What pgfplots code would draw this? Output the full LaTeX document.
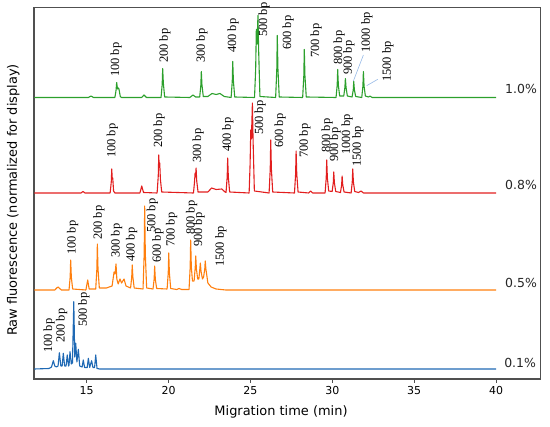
\documentclass[border=0pt]{standalone}
\usepackage{fontspec}
\setmainfont{DejaVu Sans}
\newfontfamily\serifbp{Liberation Serif}
\usepackage{pgfplots}
\pgfplotsset{compat=1.18}
\definecolor{cgreen}{RGB}{44,160,44}
\definecolor{cred}{RGB}{226,30,30}
\definecolor{corange}{RGB}{255,127,14}
\definecolor{cblue}{RGB}{31,105,180}
\definecolor{cframe}{RGB}{80,80,80}
\definecolor{cleader}{RGB}{150,185,230}
\begin{document}
\begin{tikzpicture}[
  bplab/.style={rotate=90, anchor=west, inner sep=0pt, font=\serifbp\fontsize{12.5}{13}\selectfont},
  pct/.style={anchor=center, inner sep=0pt, font=\fontsize{12.5}{13}\selectfont, text=black!85}]
\useasboundingbox (-34bp,-48bp) rectangle (516bp,379bp);
\begin{axis}[
  at={(0,0)}, anchor=south west, scale only axis,
  width=506.7bp, height=371.7bp,
  xmin=11.78, xmax=42.73, ymin=0, ymax=371.7,
  clip=false,
  ytick=\empty,
  xtick={15,20,25,30,35,40},
  xtick pos=left, tick align=outside,
  major tick length=3.5bp,
  tick style={cframe, line width=0.9bp},
  axis line style={cframe, line width=1.1bp},
  /pgf/number format/assume math mode=true,
  tick label style={font=\fontsize{11}{13}\selectfont},
  xlabel={Migration time (min)},
  ylabel={Raw fluorescence (normalized for display)},
  label style={font=\fontsize{13}{15}\selectfont},
  xlabel style={at={(axis description cs:0.4875,-0.0888)}, anchor=center},
  ylabel style={at={(axis description cs:-0.0409,0.4816)}, anchor=center},
  every axis plot/.append style={line width=1.1bp, line join=round},
]
% 1.0% (green), baseline 281.5
\addplot[cgreen] coordinates {
(11.8,281.5)
(15.1,281.5)(15.26,283)(15.42,281.5)
(16.72,281.5)(16.79,288.5)(16.83,296.5)(16.88,290)(16.93,291)(16.97,290)(17.05,282.5)(17.12,281.5)
(18.35,281.5)(18.5,284)(18.65,281.5)
(19.54,281.5)(19.61,294.5)(19.64,310.5)(19.68,296)(19.76,282)
(21.3,281.5)(21.49,284)(21.65,282)
(21.9,282)(21.97,293.5)(22.0,307.5)(22.04,294)(22.12,282.5)
(22.4,282.5)(22.65,285.5)(22.9,284.5)(23.14,285.5)(23.4,282.5)
(23.82,281.5)(23.89,297.5)(23.92,317.5)(23.96,298)(24.04,282)
(25.25,281.5)(25.32,310)(25.36,349.5)(25.40,335)(25.46,363.5)(25.50,330)(25.58,282.5)
(26.54,281.5)(26.61,309.5)(26.64,343.5)(26.68,310)(26.76,282)
(28.19,281.5)(28.26,303)(28.29,329.5)(28.33,303)(28.41,282)
(30.23,281.5)(30.30,294)(30.33,309.5)(30.37,294)(30.45,283)
(30.7,283)(30.77,291.5)(30.80,300.5)(30.84,291.5)(30.92,283)
(31.21,282)(31.28,289)(31.31,297.5)(31.35,289)(31.43,282.5)
(31.80,281.5)(31.87,293)(31.90,307.5)(31.94,293)(32.02,283)
(32.2,282)(32.3,282.8)(32.45,281.5)
(40,281.5)
};
% 0.8% (red), baseline 186
\addplot[cred] coordinates {
(11.8,186)
(14.65,186)(14.77,187.5)(14.9,186)
(16.43,186)(16.50,197)(16.53,210)(16.56,200)(16.59,201)(16.64,188)(16.72,186)
(18.25,186)(18.36,193)(18.47,186.5)
(19.30,186)(19.37,203)(19.40,224)(19.43,212)(19.46,216)(19.50,200)(19.58,187)
(21.52,186)(21.58,196)(21.62,206)(21.65,202)(21.68,211)(21.72,198)(21.80,187)
(22.4,187)(22.63,191)(22.9,189.5)(23.25,190)(23.45,187)
(23.51,186.5)(23.58,202)(23.61,221)(23.65,202)(23.73,187)
(24.92,186)(24.98,215)(25.02,249)(25.06,240)(25.12,276)(25.16,240)(25.24,188)
(26.14,186)(26.21,210)(26.24,239)(26.28,210)(26.36,187)
(27.69,186)(27.76,205)(27.79,228)(27.83,205)(27.91,187)
(28.55,186)(28.68,188)(28.8,186)
(29.56,186)(29.63,201)(29.66,219)(29.70,201)(29.78,188)
(29.99,187.5)(30.06,196)(30.09,207)(30.13,196)(30.21,187.5)
(30.50,186.5)(30.57,194)(30.60,203)(30.64,194)(30.72,187)
(31.15,186)(31.22,197)(31.25,210)(31.29,197)(31.37,187.5)
(31.6,186.5)(31.76,188)(31.9,186)
(40,186)
};
% 0.5% (orange), baseline 89
\addplot[corange] coordinates {
(11.8,89)
(13.05,89)(13.2,91.5)(13.26,92)(13.35,90.5)(13.45,89)
(13.92,89)(13.99,102)(14.02,119)(14.06,102)(14.14,90)
(14.95,89)(15.06,99)(15.15,90)
(15.3,90)(15.55,90)(15.62,110)(15.65,135)(15.69,110)(15.77,91)
(16.2,91)(16.55,93)(16.67,107)(16.73,105)(16.79,115)(16.84,100)(16.92,95)
(17.03,100)(17.13,96)(17.28,100)(17.4,93)
(17.68,91)(17.75,102)(17.78,114)(17.82,102)(17.9,91)
(18.44,90)(18.51,125)(18.54,173)(18.58,125)(18.66,91)
(19.05,90)(19.12,100)(19.15,113)(19.19,100)(19.27,90.5)
(19.91,90)(19.98,106)(20.01,126)(20.05,106)(20.13,90.5)
(20.5,89.5)(20.64,90.5)(20.8,89.5)
(21.25,89.5)(21.32,112)(21.35,139)(21.39,112)(21.46,98)
(21.56,98)(21.63,112)(21.66,123)(21.70,110)(21.78,100)
(21.85,100)(21.91,110)(21.94,116)(21.98,108)(22.07,100)
(22.14,102)(22.21,110)(22.24,118)(22.28,110)(22.4,96)(22.6,92)(22.9,90)(23.5,89)
(40,89)
};
% 0.1% (blue), baseline 10
\addplot[cblue] coordinates {
(11.8,10)(12.7,10.5)(12.85,12)(12.96,18.3)(13.05,13)(13.15,12)
(13.25,13)(13.33,26.3)(13.42,13)
(13.5,13)(13.57,25.7)(13.65,13)
(13.74,13)(13.81,24)(13.89,13)
(13.92,14)(13.98,27.3)(14.06,15)(14.13,16)(14.21,77.3)(14.27,22)(14.33,35.7)(14.40,17)(14.49,29.7)(14.57,13)
(14.72,12)(14.79,19)(14.87,11.5)
(15.03,11.5)(15.10,20.7)(15.18,11.5)(15.30,18.3)(15.38,11.5)
(15.48,11.5)(15.55,24)(15.63,10.5)(15.8,10)(40,10)
};
% leader lines
\draw[cleader, line width=0.6bp] (axis cs:31.90,324) -- (axis cs:31.29,298);
\draw[cleader, line width=0.6bp] (axis cs:32.78,299.7) -- (axis cs:32.10,293.3);
% green labels
\node[bplab] at (axis cs:16.79,302) {100 bp};
\node[bplab] at (axis cs:19.78,316) {200 bp};
\node[bplab] at (axis cs:22.04,316) {300 bp};
\node[bplab] at (axis cs:23.94,326) {400 bp};
\node[bplab] at (axis cs:25.83,342) {500 bp};
\node[bplab] at (axis cs:27.30,329) {600 bp};
\node[bplab] at (axis cs:29.01,321) {700 bp};
\node[bplab] at (axis cs:30.41,314) {800 bp};
\node[bplab] at (axis cs:31.02,304) {900 bp};
\node[bplab] at (axis cs:32.12,326) {1000 bp};
\node[bplab] at (axis cs:33.40,297) {1500 bp};
% red labels
\node[bplab] at (axis cs:16.56,221) {100 bp};
\node[bplab] at (axis cs:19.42,231) {200 bp};
\node[bplab] at (axis cs:21.80,216) {300 bp};
\node[bplab] at (axis cs:23.63,227) {400 bp};
\node[bplab] at (axis cs:25.59,244) {500 bp};
\node[bplab] at (axis cs:26.81,231) {600 bp};
\node[bplab] at (axis cs:28.33,221) {700 bp};
\node[bplab] at (axis cs:29.68,226) {800 bp};
\node[bplab] at (axis cs:30.17,217) {900 bp};
\node[bplab] at (axis cs:30.90,224) {1000 bp};
\node[bplab] at (axis cs:31.57,212) {1500 bp};
% orange labels
\node[bplab] at (axis cs:14.14,124) {100 bp};
\node[bplab] at (axis cs:15.75,139) {200 bp};
\node[bplab] at (axis cs:16.83,121) {300 bp};
\node[bplab] at (axis cs:17.75,117) {400 bp};
\node[bplab] at (axis cs:19.01,146) {500 bp};
\node[bplab] at (axis cs:19.35,116) {600 bp};
\node[bplab] at (axis cs:20.19,132) {700 bp};
\node[bplab] at (axis cs:21.41,144) {800 bp};
\node[bplab] at (axis cs:21.86,132) {900 bp};
\node[bplab] at (axis cs:23.19,112) {1500 bp};
% blue labels
\node[bplab] at (axis cs:12.71,26) {100 bp};
\node[bplab] at (axis cs:13.47,36) {200 bp};
\node[bplab] at (axis cs:14.83,52) {500 bp};
% concentration labels
\node[pct] at (axis cs:41.53,290) {1.0\%};
\node[pct] at (axis cs:41.53,194) {0.8\%};
\node[pct] at (axis cs:41.53,96) {0.5\%};
\node[pct] at (axis cs:41.47,16) {0.1\%};
\end{axis}
\end{tikzpicture}
\end{document}
